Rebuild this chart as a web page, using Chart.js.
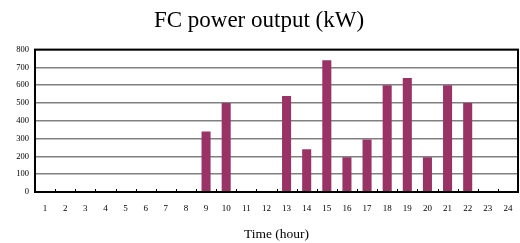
<!DOCTYPE html>
<html>
<head>
<meta charset="utf-8">
<script src="https://cdn.jsdelivr.net/npm/chart.js@4"></script>
<style>
html,body{margin:0;padding:0;background:#fff;}
#wrap{width:520px;height:243px;}
</style>
</head>
<body>
<div id="wrap"><canvas id="c"></canvas></div>
<script>
const hours = ['1','2','3','4','5','6','7','8','9','10','11','12','13','14','15','16','17','18','19','20','21','22','23','24'];
const fcPower = [0,0,0,0,0,0,0,0,340,500,0,0,540,240,740,195,295,600,640,195,600,500,0,0];
const yTicks = [0,100,200,300,400,500,600,700,800];

// frame + small inner ticks on the category axis
const frame = {
	id:'frame',
	afterDraw(chart){
		const ctx = chart.ctx, a = chart.chartArea, x = chart.scales.x;
		ctx.save();
		ctx.strokeStyle = '#000';
		ctx.lineWidth = 2;
		ctx.strokeRect(a.left, a.top, a.right - a.left, a.bottom - a.top);
		ctx.lineWidth = 1;
		ctx.beginPath();
		for(let i = 1; i < hours.length; i++){
			const px = Math.round((x.getPixelForValue(i - 1) + x.getPixelForValue(i)) / 2) + 0.5;
			ctx.moveTo(px, a.bottom);
			ctx.lineTo(px, a.bottom - 3);
		}
		ctx.stroke();
		ctx.restore();
	}
};

new Chart(document.getElementById('c').getContext('2d'), {
	type:'bar',
	data:{
		labels:hours,
		datasets:[{
			label:'FC power output (kW)',
			data:fcPower,
			backgroundColor:'#993366',
			barPercentage:0.9,
			categoryPercentage:0.5
		}]
	},
	options:{
		responsive:true,
		maintainAspectRatio:false,
		animation:false,
		layout:{padding:{left:0,right:2,top:0,bottom:0}},
		plugins:{
			legend:{display:false},
			tooltip:{enabled:false},
			title:{
				display:true,
				text:'FC power output (kW)',
				color:'#000',
				font:{family:'Liberation Serif',size:23,weight:'normal'},
				padding:{top:7,bottom:15}
			}
		},
		scales:{
			x:{
				grid:{display:false,drawTicks:false,tickLength:0},
				border:{display:false},
				ticks:{color:'#000',font:{family:'Liberation Serif',size:9},padding:11,maxRotation:0,autoSkip:false},
				title:{display:true,text:'Time (hour)',color:'#000',font:{family:'Liberation Serif',size:13.5},padding:{top:10,bottom:0}},
				afterFit(s){ s.height = 51; s.paddingLeft = 0; s.paddingRight = 0; }
			},
			y:{
				min:0,max:800,
				afterBuildTicks(s){ s.ticks = yTicks.map(v => ({value:v})); },
				grid:{color:'#808080',lineWidth:1.5,drawTicks:false},
				border:{display:false},
				ticks:{color:'#000',font:{family:'Liberation Serif',size:8.5},padding:6},
				afterFit(s){ s.width = 35; }
			}
		}
	},
	plugins:[frame]
});
</script>
</body>
</html>
